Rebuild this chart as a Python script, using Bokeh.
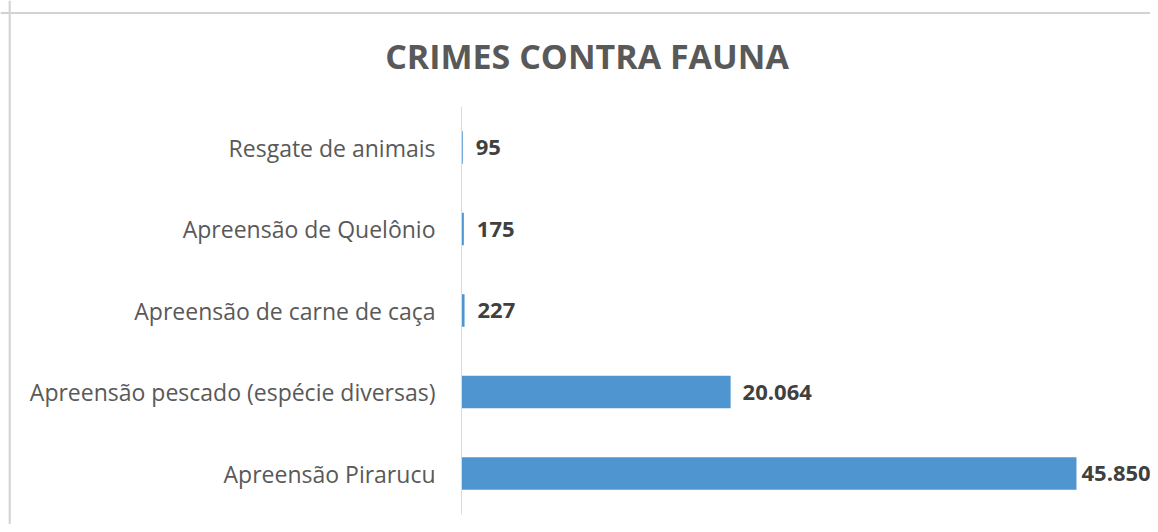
from bokeh.plotting import figure
from bokeh.models import ColumnDataSource, Span, Range1d
from bokeh.core.properties import value
from bokeh.embed import file_html
from bokeh.resources import INLINE

# ---- data ----
title_text = "CRIMES CONTRA FAUNA"
categories = [
    "Resgate de animais",
    "Apreensão de Quelônio",
    "Apreensão de carne de caça",
    "Apreensão pescado (espécie diversas)",
    "Apreensão Pirarucu",
]
values = [95, 175, 227, 20064, 45850]
value_labels = ["95", "175", "227", "20.064", "45.850"]

# ---- layout constants (pixels) ----
W, H = 1150, 524
ZERO_PX = 461          # x of value 0 inside the figure
PX_PER_UNIT = 0.013413 # pixels per unit of value
BAND_PX = 81.5         # pixels per category band
LAST_CENTER_PX = 473   # y (from top) of the bottom category centre

x_start = -ZERO_PX / PX_PER_UNIT
x_end = (W - ZERO_PX) / PX_PER_UNIT
y_start = -(H - LAST_CENTER_PX) / BAND_PX
y_end = LAST_CENTER_PX / BAND_PX

def x_at(px):
    return (px - ZERO_PX) / PX_PER_UNIT

def y_at(py):
    return (LAST_CENTER_PX - py) / BAND_PX

n = len(categories)
ypos = [n - 1 - i for i in range(n)]
label_offsets = [13, 13, 13, 12, 5]

src = ColumnDataSource(dict(cat=categories, val=values, lab=value_labels, y=ypos,
                            zero=[0] * n, off=label_offsets))

p = figure(width=W, height=H, output_backend="svg", toolbar_location=None,
           x_range=Range1d(x_start, x_end), y_range=Range1d(y_start, y_end),
           x_axis_location=None, y_axis_location=None, min_border=0)
p.grid.visible = False
p.outline_line_color = None
p.background_fill_color = "white"
p.border_fill_color = "white"

# chart border (left + top)
p.add_layout(Span(location=x_at(9.2), dimension="height", line_color="#d2d2d2", line_width=2))
p.add_layout(Span(location=y_at(12.5), dimension="width", line_color="#d2d2d2", line_width=2))

# bars
p.hbar(y="y", left="zero", right="val", height=0.4, source=src,
       fill_color="#4F95D0", line_color=None)

# category axis line
p.segment(x0=0, y0=-0.5, x1=0, y1=n - 0.5, line_color="#d9d9d9", line_width=1)

# category labels
p.text(x="zero", y="y", text="cat", source=src, x_offset=-26,
       text_align="right", text_baseline="middle",
       text_font=value("Open Sans"), text_font_size="23px", text_color="#595959")

# value labels
p.text(x="val", y="y", text="lab", source=src, x_offset="off",
       text_align="left", text_baseline="middle",
       text_font=value("Open Sans"), text_font_style="bold",
       text_font_size="22px", text_color="#404040")

# title
p.text(x=[x_at(586.5)], y=[y_at(55)], text=[title_text],
       text_align="center", text_baseline="middle",
       text_font=value("Open Sans"), text_font_style="bold",
       text_font_size="34px", text_color="#595959")

open("out.html", "w").write(file_html(p, INLINE))
